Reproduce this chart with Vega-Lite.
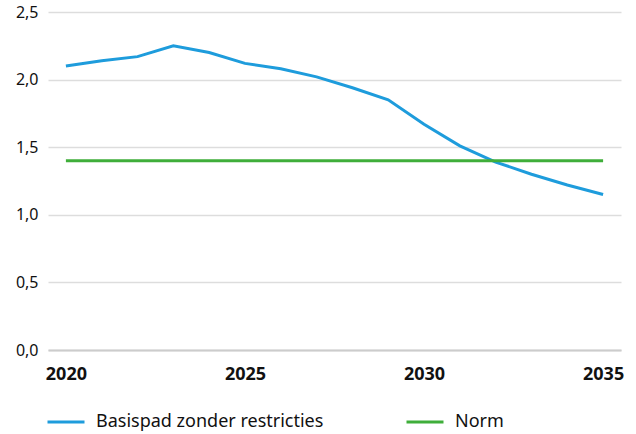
{
  "$schema": "https://vega.github.io/schema/vega-lite/v6.json",
  "width": 573,
  "height": 338,
  "autosize": "none",
  "padding": {"left": 48, "top": 12, "right": 15, "bottom": 84},
  "background": "white",
  "config": {
    "font": "Noto Sans",
    "view": {"stroke": null}
  },
  "data": {
    "values": [
      {"jaar": 2020, "serie": "Basispad zonder restricties", "waarde": 2.10},
      {"jaar": 2021, "serie": "Basispad zonder restricties", "waarde": 2.14},
      {"jaar": 2022, "serie": "Basispad zonder restricties", "waarde": 2.17},
      {"jaar": 2023, "serie": "Basispad zonder restricties", "waarde": 2.25},
      {"jaar": 2024, "serie": "Basispad zonder restricties", "waarde": 2.20},
      {"jaar": 2025, "serie": "Basispad zonder restricties", "waarde": 2.12},
      {"jaar": 2026, "serie": "Basispad zonder restricties", "waarde": 2.08},
      {"jaar": 2027, "serie": "Basispad zonder restricties", "waarde": 2.02},
      {"jaar": 2028, "serie": "Basispad zonder restricties", "waarde": 1.94},
      {"jaar": 2029, "serie": "Basispad zonder restricties", "waarde": 1.85},
      {"jaar": 2030, "serie": "Basispad zonder restricties", "waarde": 1.67},
      {"jaar": 2031, "serie": "Basispad zonder restricties", "waarde": 1.51},
      {"jaar": 2032, "serie": "Basispad zonder restricties", "waarde": 1.39},
      {"jaar": 2033, "serie": "Basispad zonder restricties", "waarde": 1.30},
      {"jaar": 2034, "serie": "Basispad zonder restricties", "waarde": 1.22},
      {"jaar": 2035, "serie": "Basispad zonder restricties", "waarde": 1.15},
      {"jaar": 2020, "serie": "Norm", "waarde": 1.4},
      {"jaar": 2021, "serie": "Norm", "waarde": 1.4},
      {"jaar": 2022, "serie": "Norm", "waarde": 1.4},
      {"jaar": 2023, "serie": "Norm", "waarde": 1.4},
      {"jaar": 2024, "serie": "Norm", "waarde": 1.4},
      {"jaar": 2025, "serie": "Norm", "waarde": 1.4},
      {"jaar": 2026, "serie": "Norm", "waarde": 1.4},
      {"jaar": 2027, "serie": "Norm", "waarde": 1.4},
      {"jaar": 2028, "serie": "Norm", "waarde": 1.4},
      {"jaar": 2029, "serie": "Norm", "waarde": 1.4},
      {"jaar": 2030, "serie": "Norm", "waarde": 1.4},
      {"jaar": 2031, "serie": "Norm", "waarde": 1.4},
      {"jaar": 2032, "serie": "Norm", "waarde": 1.4},
      {"jaar": 2033, "serie": "Norm", "waarde": 1.4},
      {"jaar": 2034, "serie": "Norm", "waarde": 1.4},
      {"jaar": 2035, "serie": "Norm", "waarde": 1.4}
    ]
  },
  "mark": {"type": "line", "strokeWidth": 3},
  "encoding": {
    "x": {
      "field": "jaar",
      "type": "quantitative",
      "scale": {"domain": [2019.5, 2035.5], "nice": false, "zero": false},
      "axis": {
        "title": null,
        "values": [2020, 2025, 2030, 2035],
        "format": "d",
        "grid": false,
        "ticks": false,
        "domain": true,
        "domainColor": "#cccccc",
        "domainWidth": 2,
        "labelFont": "Noto Sans",
        "labelFontWeight": "bold",
        "labelFontSize": 18,
        "labelColor": "#111111",
        "labelPadding": 15
      }
    },
    "y": {
      "field": "waarde",
      "type": "quantitative",
      "scale": {"domain": [0, 2.5], "nice": false},
      "axis": {
        "title": null,
        "values": [0, 0.5, 1, 1.5, 2, 2.5],
        "labelExpr": "replace(format(datum.value, '.1f'), '.', ',')",
        "grid": true,
        "gridColor": "#dddddd",
        "gridWidth": 1.5,
        "ticks": false,
        "domain": false,
        "labelFontSize": 16,
        "labelColor": "#111111",
        "labelPadding": 10
      }
    },
    "color": {
      "field": "serie",
      "type": "nominal",
      "scale": {
        "domain": ["Basispad zonder restricties", "Norm"],
        "range": ["#1e9cdc", "#3fae3a"]
      },
      "legend": {
        "title": null,
        "orient": "none",
        "legendX": -2,
        "legendY": 390,
        "direction": "horizontal",
        "symbolType": "stroke",
        "symbolSize": 1369,
        "symbolStrokeWidth": 3,
        "labelFontSize": 18,
        "labelColor": "#111111",
        "labelOffset": 10,
        "columnPadding": 76,
        "labelLimit": 400
      }
    }
  }
}
